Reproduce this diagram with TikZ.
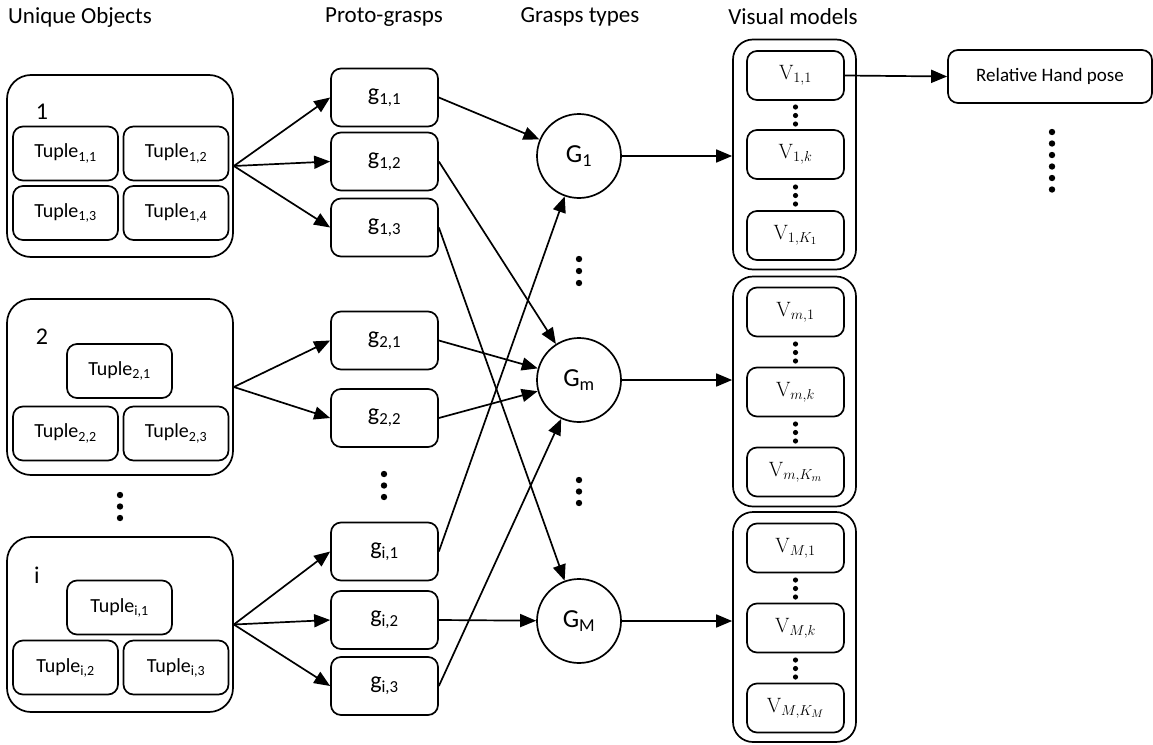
\documentclass[tikz,border=0pt]{standalone}
\usepackage[no-math]{fontspec}
\setmainfont{Carlito}
\usetikzlibrary{arrows.meta,calc}

\tikzset{
  lw/.style={line width=1.7pt},
  header/.style={font=\fontsize{23}{26}\selectfont, inner sep=0pt},
  objbox/.style={lw, draw, rounded corners=24pt, minimum width=226pt, inner sep=0pt},
  objlabel/.style={font=\fontsize{24}{26}\selectfont, inner sep=0pt},
  tuple/.style={lw, draw, rounded corners=10pt, minimum width=105pt, minimum height=54pt, inner sep=0pt, font=\fontsize{20}{22}\selectfont},
  proto/.style={lw, draw, rounded corners=10pt, minimum width=107pt, minimum height=58pt, inner sep=0pt, font=\fontsize{24}{26}\selectfont},
  gtype/.style={lw, draw, circle, minimum size=84pt, inner sep=0pt, font=\fontsize{26}{28}\selectfont},
  vcont/.style={lw, draw, rounded corners=20pt, minimum width=123pt, minimum height=230pt, inner sep=0pt},
  vbox/.style={lw, draw, rounded corners=10pt, minimum width=97pt, minimum height=49pt, inner sep=0pt, font=\fontsize{22}{24}\selectfont},
  posebox/.style={lw, draw, rounded corners=10pt, minimum width=204pt, minimum height=53pt, inner sep=0pt, font=\fontsize{19}{21}\selectfont},
  link/.style={lw, -{Triangle[length=16pt,width=13pt]}},
}

% subscript in the text font
\newcommand{\sbs}[1]{\textsubscript{#1}}
% serif model label V_{a,b}
\newcommand{\vlab}[1]{$\mathrm{V}_{#1}$}

\begin{document}
\begin{tikzpicture}[x=1pt,y=-1pt]
\useasboundingbox (0,0) rectangle (1153,744);

% column headers
\node[header] (h1) at (80,17) {Unique Objects};
\node[header] (h2) at (384,17) {Proto-grasps};
\node[header] (h3) at (580,17) {Grasps types};
\node[header] (h4) at (793,17) {Visual models};

% unique objects and their tuples
\node[objbox, minimum height=182pt] (O1) at (120,166) {};
\node[objlabel] (l1) at (42,112) {1};
\node[tuple] (t11) at (65.5,153.5) {Tuple\sbs{1,1}};
\node[tuple] (t12) at (176,153.5) {Tuple\sbs{1,2}};
\node[tuple] (t13) at (65.5,213) {Tuple\sbs{1,3}};
\node[tuple] (t14) at (176,213) {Tuple\sbs{1,4}};

\node[objbox, minimum height=176pt] (O2) at (120,387) {};
\node[objlabel] (l2) at (42,337) {2};
\node[tuple] (t21) at (119.5,371) {Tuple\sbs{2,1}};
\node[tuple] (t22) at (65.5,433.5) {Tuple\sbs{2,2}};
\node[tuple] (t23) at (176,433.5) {Tuple\sbs{2,3}};

\node[objbox, minimum height=175pt] (Oi) at (120,624.5) {};
\node[objlabel] (li) at (37,575) {i};
\node[tuple] (ti1) at (119.5,607.5) {Tuple\sbs{i,1}};
\node[tuple] (ti2) at (65.5,667.5) {Tuple\sbs{i,2}};
\node[tuple] (ti3) at (176,667.5) {Tuple\sbs{i,3}};

% proto-grasps
\node[proto] (g11) at (384.5,97.5) {g\sbs{1,1}};
\node[proto] (g12) at (384.5,161.5) {g\sbs{1,2}};
\node[proto] (g13) at (384.5,227.5) {g\sbs{1,3}};
\node[proto] (g21) at (384.5,340.5) {g\sbs{2,1}};
\node[proto] (g22) at (384.5,418) {g\sbs{2,2}};
\node[proto] (gi1) at (384.5,551.5) {g\sbs{i,1}};
\node[proto] (gi2) at (384.5,620) {g\sbs{i,2}};
\node[proto] (gi3) at (384.5,686) {g\sbs{i,3}};

% grasp types
\node[gtype] (G1) at (579,156) {G\sbs{1}};
\node[gtype] (Gm) at (579,380) {G\sbs{m}};
\node[gtype] (GM) at (579,621) {G\sbs{M}};

% visual model groups
\node[vcont] (C1) at (794.5,154.5) {};
\node[vbox] (v11) at (795.5,75.5) {\vlab{1,1}};
\node[vbox] (v1k) at (795.5,154.5) {\vlab{1,k}};
\node[vbox] (v1K) at (795.5,235.5) {\vlab{1,K_1}};

\node[vcont] (Cm) at (794.5,391.5) {};
\node[vbox] (vm1) at (795.5,312) {\vlab{m,1}};
\node[vbox] (vmk) at (795.5,392) {\vlab{m,k}};
\node[vbox] (vmK) at (795.5,472) {\vlab{m,K_m}};

\node[vcont] (CM) at (794.5,627) {};
\node[vbox] (vM1) at (795.5,548) {\vlab{M,1}};
\node[vbox] (vMk) at (795.5,628) {\vlab{M,k}};
\node[vbox] (vMK) at (795.5,708) {\vlab{M,K_M}};

% hand pose
\node[posebox] (hp) at (1050,76.5) {Relative Hand pose};

% ellipsis dots
\foreach \y in {495,506.5,518} \fill (120,\y) circle (3.2pt);
\foreach \y in {474,485.5,497} \fill (384,\y) circle (3.2pt);
\foreach \y in {259,271,283} \fill (579,\y) circle (3.2pt);
\foreach \y in {480,491.5,503} \fill (579,\y) circle (3.2pt);
\foreach \y in {107,115.5,124, 187,195.5,204,
                344,352.5,361, 424,432.5,441,
                580,588.5,597, 660,668.5,677} \fill (795.5,\y) circle (2.6pt);
\foreach \y in {132,143.5,155,166.5,178,189.5} \fill (1052,\y) circle (3.2pt);

% objects to proto-grasps
\draw[link] (O1.east) -- (g11.west);
\draw[link] (O1.east) -- (g12.west);
\draw[link] (O1.east) -- (g13.west);
\draw[link] (O2.east) -- (g21.west);
\draw[link] (O2.east) -- (g22.west);
\draw[link] (Oi.east) -- (gi1.west);
\draw[link] (Oi.east) -- (gi2.west);
\draw[link] (Oi.east) -- (gi3.west);

% proto-grasps to grasp types
\draw[link] (g11.east) -- (G1);
\draw[link] (gi1.east) -- (G1);
\draw[link] (g12.east) -- (Gm);
\draw[link] (g21.east) -- (Gm);
\draw[link] (g22.east) -- (Gm);
\draw[link] (gi3.east) -- (Gm);
\draw[link] (g13.east) -- (GM);
\draw[link] (gi2.east) -- (GM);

% grasp types to visual models
\draw[link] (G1.east) -- (G1.east -| C1.west);
\draw[link] (Gm.east) -- (Gm.east -| Cm.west);
\draw[link] (GM.east) -- (GM.east -| CM.west);
\draw[link] (v11.east) -- (hp.west);
\end{tikzpicture}
\end{document}
